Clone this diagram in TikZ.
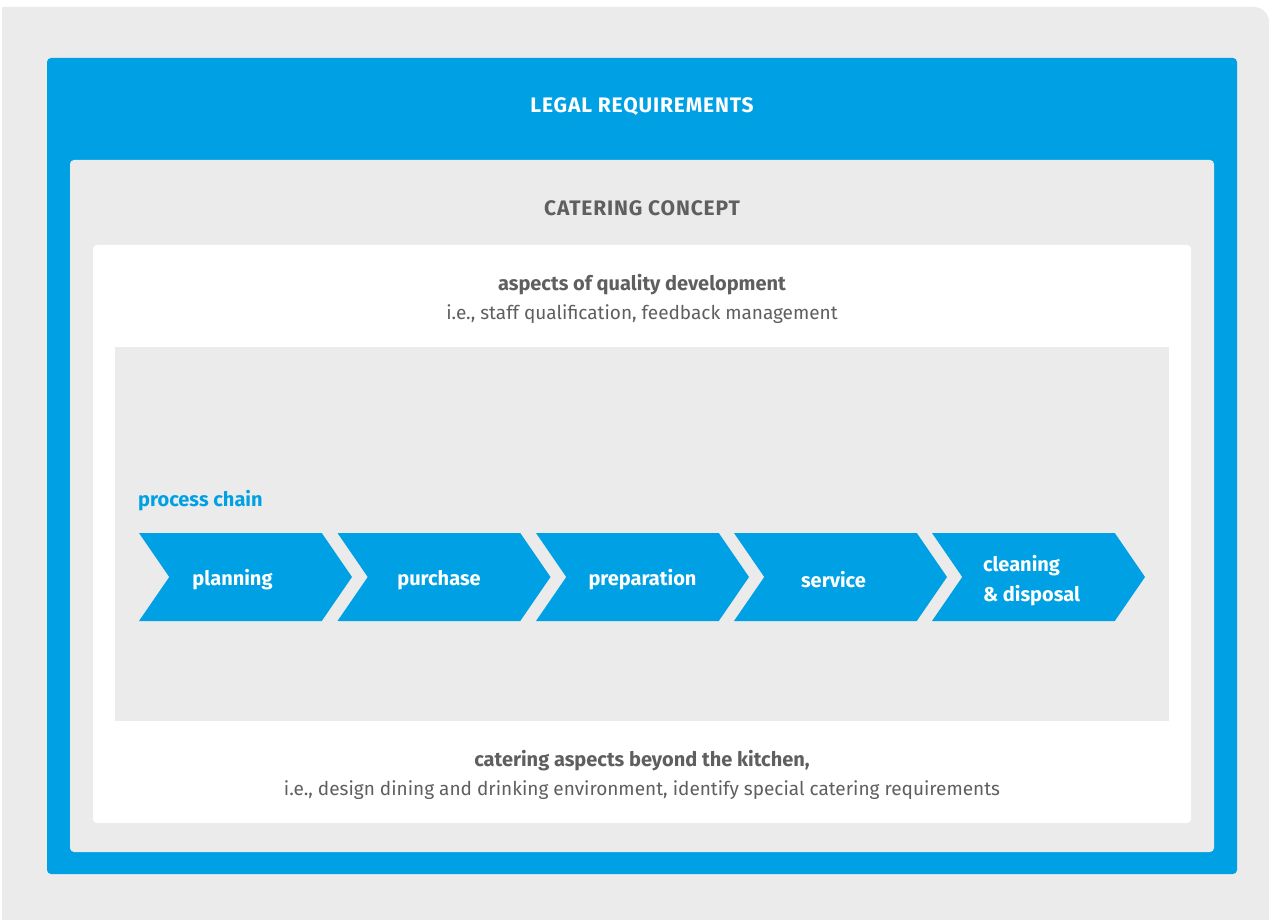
\documentclass[tikz,border=0pt]{standalone}
\usepackage{fontspec}
\setmainfont{Fira Sans}
\newfontfamily\capsfont[LetterSpace=4]{Fira Sans}
\usetikzlibrary{shapes.symbols}
\definecolor{dgeblue}{RGB}{0,161,228}
\definecolor{panelgrey}{RGB}{235,235,235}
\definecolor{textgrey}{RGB}{95,95,95}
\tikzset{
  stage/.style={signal, signal from=west, signal to=east, signal pointer angle=111,
    fill=dgeblue, minimum width=213pt, minimum height=88pt, inner sep=0pt},
  stagetext/.style={text=white, font=\bfseries\fontsize{20}{30}\selectfont, align=left, inner sep=0pt},
  heading/.style={font=\capsfont\bfseries\fontsize{21}{24}\selectfont},
  body/.style={text=textgrey, align=center, font=\fontsize{19}{29}\selectfont}
}
\begin{document}
\begin{tikzpicture}[x=1pt,y=-1pt]
\useasboundingbox (0,0) rectangle (1269,920);
%Hintergrund
\fill[panelgrey] (2,920) -- (2,7) -- (1254,7) arc(-90:0:15) -- (1269,920) -- cycle;
%Rahmen
\fill[dgeblue,rounded corners=4pt] (47,58) rectangle (1237,874);
\fill[panelgrey,rounded corners=4pt] (70,160) rectangle (1214,852);
\fill[white,rounded corners=4pt] (93,245) rectangle (1191,823);
\fill[panelgrey] (115,347) rectangle (1169,721);
%Text
\node[heading,text=white] (legal) at (642,107) {LEGAL REQUIREMENTS};
\node[heading,text=textgrey] (concept) at (642,208.5) {CATERING CONCEPT};
\node[body] (quality) at (642,298.5) {{\bfseries\fontsize{20}{29}\selectfont aspects of quality development}\\i.e., staff qualification, feedback management};
\node[body] (beyond) at (642,774.5) {{\bfseries\fontsize{20}{29}\selectfont catering aspects beyond the kitchen,}\\i.e., design dining and drinking environment, identify special catering requirements};
\node[text=dgeblue,anchor=west,font=\bfseries\fontsize{20}{24}\selectfont,inner sep=0pt] (chain) at (138,501) {process chain};
%Prozesskette
\foreach \n/\x/\dx/\dy/\lbl in {plan/245.5/-13/-3/planning, buy/444/-5/-3/purchase, prep/642.5/0/-3/preparation,
  serve/840.5/-7/-3/service, clean/1038.5/-7/-4/{cleaning\\\& disposal}}
{
  \node[stage] (\n) at (\x,577) {};
  \node[stagetext] (\n-txt) at ([xshift=\dx pt,yshift=\dy pt]\n.center) {\lbl};
}
\end{tikzpicture}
\end{document}
